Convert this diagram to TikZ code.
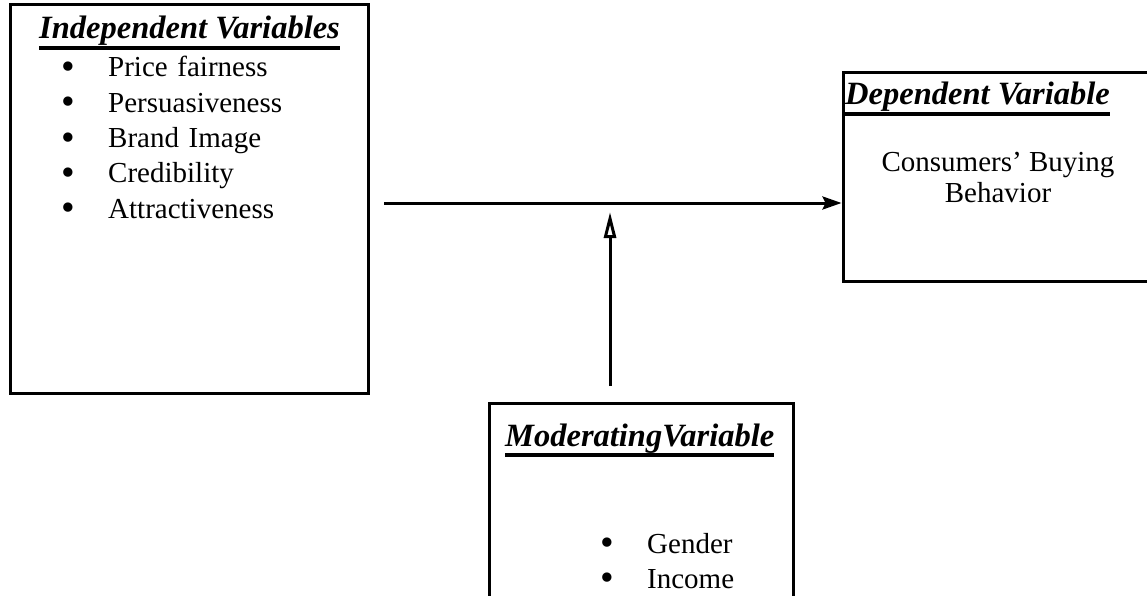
\documentclass[tikz,border=0pt]{standalone}
\usepackage{fontspec}
\setmainfont{Liberation Serif}
\usepackage{tikz}
\usetikzlibrary{arrows.meta}
\newcommand{\vartitlefont}{\fontsize{32.5}{38}\selectfont\bfseries\itshape}
\newcommand{\varbodyfont}{\fontsize{29}{31}\selectfont}
\newcommand{\varbullet}{\makebox[47pt][l]{\raisebox{-2.5pt}{\fontsize{39}{39}\selectfont\textbullet}}}
\tikzstyle{varbox} = [rectangle, draw, line width=3pt, inner sep=0pt]
\tikzstyle{heading} = [font=\vartitlefont, inner sep=0pt]
\tikzstyle{entry} = [font=\varbodyfont, text width=250pt, align=left,
    text height=18pt, text depth=5pt, inner sep=0pt]
\tikzstyle{uline} = [draw, line width=4pt]
\tikzstyle{arrow} = [draw, -{Stealth[length=19pt, width=13pt, inset=3pt]}, line width=3pt]
\tikzstyle{openarrow} = [draw, -{Triangle[open, length=26pt, width=12pt]}, line width=3pt]

\begin{document}
\begin{tikzpicture}[x=1pt, y=-1pt, node distance=35.3pt]
    \useasboundingbox (0,0) rectangle (1147,596);
    % Place boxes
    \node [varbox, minimum width=358pt, minimum height=388pt] (indepBox) at (189,199) {};
    \node [varbox, minimum width=309pt, minimum height=208pt] (depBox) at (997.5,177) {};
    \node [varbox, minimum width=304pt, minimum height=207pt] (modBox) at (641,506.5) {};
    % Independent variables
    \node [heading, anchor=base west] (indepTitle) at (39,39) {Independent Variables};
    \path [uline] ([yshift=-1.5pt]indepTitle.south west) -- ([yshift=-1.5pt]indepTitle.south east);
    \node [entry, anchor=base west] (indep1) at (61,77) {\varbullet Price fairness};
    \node [entry, below of=indep1] (indep2) {\varbullet Persuasiveness};
    \node [entry, below of=indep2] (indep3) {\varbullet Brand Image};
    \node [entry, below of=indep3] (indep4) {\varbullet Credibility};
    \node [entry, below of=indep4] (indep5) {\varbullet Attractiveness};
    % Dependent variable
    \node [heading, anchor=base west] (depTitle) at (845,105) {Dependent Variable};
    \path [uline] ([yshift=-1.5pt]depTitle.south west) -- ([yshift=-1.5pt]depTitle.south east);
    \node [font=\varbodyfont, align=center, inner sep=0pt] (depText) at (998,177) {Consumers’ Buying\\Behavior};
    % Moderating variable
    \node [heading, anchor=base west] (modTitle) at (505,446) {ModeratingVariable};
    \path [uline] ([yshift=-1.5pt]modTitle.south west) -- ([yshift=-1.5pt]modTitle.south east);
    \node [entry, anchor=base west] (mod1) at (600,553) {\varbullet Gender};
    \node [entry, below of=mod1] (mod2) {\varbullet Income};
    % Connectors
    \coordinate (flowStart) at (384,203);
    \coordinate (modFoot) at (610,386);
    \coordinate (modTip) at (610,212);
    \path [arrow] (flowStart) -- (flowStart -| depBox.west);
    \path [openarrow] (modFoot) -- (modTip);
\end{tikzpicture}
\end{document}
